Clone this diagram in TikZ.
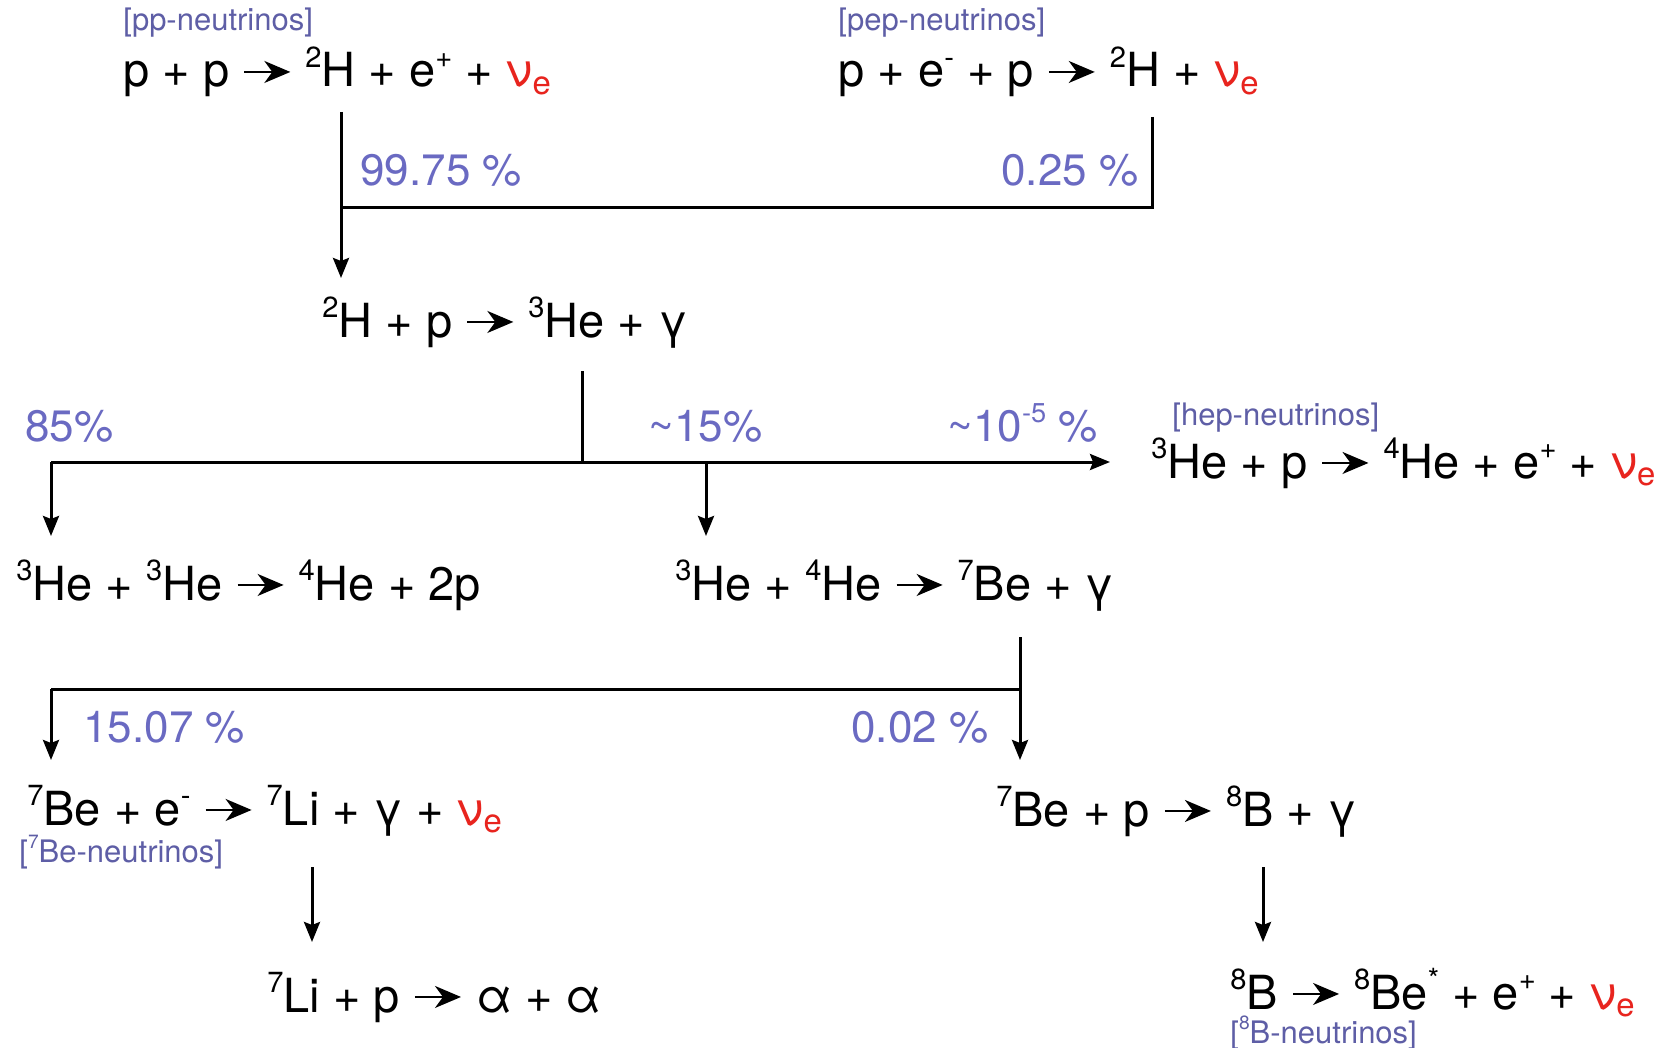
\documentclass[tikz,border=0pt]{standalone}
\usepackage{fontspec}
\setmainfont{TeX Gyre Heros}
\usetikzlibrary{arrows.meta}
\definecolor{nured}{HTML}{E8241E}
\definecolor{pctblue}{HTML}{6A6AC2}
\definecolor{lblblue}{HTML}{5E5EA6}
\newcommand\rarr{\hspace{0.3em}\tikz[baseline=-0.32em]\draw[line width=1pt,-{Stealth[length=13pt,width=11pt,inset=4pt]}] (0pt,0pt)--(23pt,0pt);\hspace{0.3em}}
\newcommand\nue{\textcolor{nured}{ν\textsubscript{e}}}
\newcommand\sps[1]{\raisebox{0.42em}{\scalebox{0.62}{#1}}}
\begin{document}
\begin{tikzpicture}[x=0.5pt,y=-0.5pt,
  rx/.style={anchor=base west,inner sep=0pt,font=\fontsize{23.5}{27}\selectfont},
  pct/.style={anchor=base west,inner sep=0pt,text=pctblue,font=\fontsize{22}{26}\selectfont},
  lbl/.style={anchor=base west,inner sep=0pt,text=lblblue,font=\fontsize{15.5}{18}\selectfont},
  conn/.style={line width=1.5pt},
  arr/.style={conn,-{Stealth[length=10pt,width=8pt,inset=1.5pt]}}]
\fill[white] (0,0) rectangle (1674,1048);
\useasboundingbox (0,0) rectangle (1674,1048);
% row 1
\node[lbl] (pplbl) at (123,31) {[pp-neutrinos]};
\node[rx] (pp) at (123,87) {p + p\rarr\sps{2}H + e\sps{+} + \nue};
\node[lbl] (peplbl) at (838,31) {[pep-neutrinos]};
\node[rx] (pep) at (838,87) {p + e\sps{-} + p\rarr\sps{2}H + \nue};
\node[pct] (p9975) at (360,186) {99.75 \%};
\node[pct] (p025) at (1001,186) {0.25 \%};
% row 2
\node[rx] (dhp) at (322,337) {\sps{2}H + p\rarr\sps{3}He + γ};
\node[pct] (p85) at (25,441) {85\%};
\node[pct] (p15) at (648,441) {\textasciitilde15\%};
\node[pct] (p105) at (947,441) {\textasciitilde10\sps{-5} \%};
\node[lbl] (heplbl) at (1172,425) {[hep-neutrinos]};
\node[rx] (hep) at (1151,478) {\sps{3}He + p\rarr\sps{4}He + e\sps{+} + \nue};
% row 3
\node[rx] (hehe) at (16,600) {\sps{3}He + \sps{3}He\rarr\sps{4}He + 2p};
\node[rx] (hebe) at (675,600) {\sps{3}He + \sps{4}He\rarr\sps{7}Be + γ};
\node[pct] (p1507) at (83,742) {15.07 \%};
\node[pct] (p002) at (851,742) {0.02 \%};
% row 4
\node[rx] (bee) at (27,825) {\sps{7}Be + e\sps{-}\rarr\sps{7}Li + γ + \nue};
\node[lbl] (belbl) at (19,862) {[\sps{7}Be-neutrinos]};
\node[rx] (bep) at (996,826) {\sps{7}Be + p\rarr\sps{8}B + γ};
% row 5
\node[rx] (lip) at (267,1012) {\sps{7}Li + p\rarr α + α};
\node[rx] (bdec) at (1230,1009) {\sps{8}B\rarr\sps{8}Be\sps{*} + e\sps{+} + \nue};
\node[lbl] (blbl) at (1230,1043) {[\sps{8}B-neutrinos]};
% junction coordinates
\coordinate (a1) at (341,112);
\coordinate (a2) at (341,208);
\coordinate (a3) at (341,278);
\coordinate (b1) at (1152,117);
\coordinate (b2) at (1152,208);
\coordinate (c1) at (582,371);
\coordinate (c2) at (582,462);
\coordinate (c3) at (51,462);
\coordinate (c4) at (51,536);
\coordinate (c5) at (706,462);
\coordinate (c6) at (706,536);
\coordinate (c7) at (1110,462);
\coordinate (d1) at (1020,637);
\coordinate (d2) at (1020,689);
\coordinate (d3) at (1020,760);
\coordinate (d4) at (51,689);
\coordinate (d5) at (51,760);
\coordinate (e1) at (312,867);
\coordinate (e2) at (312,942);
\coordinate (f1) at (1263,867);
\coordinate (f2) at (1263,942);
% connectors
\draw[arr] (a1) -- (a3);
\draw[conn] (b1) -- (b2) -- (a2);
\draw[conn] (c1) -- (c2);
\draw[arr] (c3) -- (c7);
\draw[arr] (c3) -- (c4);
\draw[arr] (c5) -- (c6);
\draw[arr] (d1) -- (d3);
\draw[conn] (d2) -- (d4);
\draw[arr] (d4) -- (d5);
\draw[arr] (e1) -- (e2);
\draw[arr] (f1) -- (f2);
\end{tikzpicture}
\end{document}
